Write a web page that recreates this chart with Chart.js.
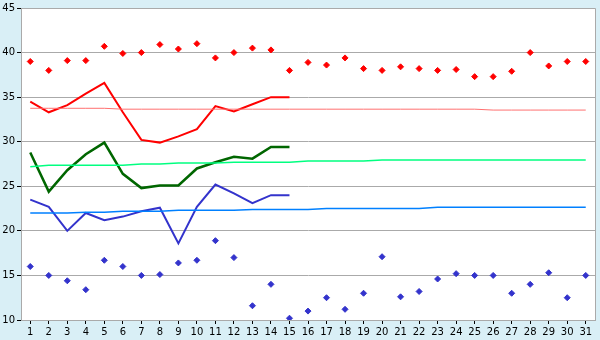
<!DOCTYPE html>
<html>
<head>
<meta charset="utf-8">
<script src="https://cdn.jsdelivr.net/npm/chart.js@4/dist/chart.umd.min.js"></script>
<style>
  html, body { margin: 0; padding: 0; background: #d9eff6; overflow: hidden; }
  #wrap { width: 600px; height: 340px; }
</style>
</head>
<body>
<div id="wrap"><canvas id="grafico" width="600" height="340"></canvas></div>
<script>
const dias = Array.from({ length: 31 }, (_, i) => String(i + 1));

// pontos diários (máxima / mínima)
const maximas = [39.0, 38.0, 39.1, 39.1, 40.7, 39.9, 40.0, 40.9, 40.4, 41.0, 39.4, 40.0, 40.5, 40.3, 38.0,
  38.9, 38.6, 39.4, 38.2, 38.0, 38.4, 38.2, 38.0, 38.1, 37.3, 37.3, 37.9, 40.0, 38.5, 39.0, 39.0];
const minimas = [16.0, 15.0, 14.4, 13.4, 16.7, 16.0, 15.0, 15.1, 16.4, 16.7, 18.9, 17.0, 11.6, 14.0, 10.2,
  11.0, 12.5, 11.2, 13.0, 17.1, 12.6, 13.2, 14.6, 15.2, 15.0, 15.0, 13.0, 14.0, 15.3, 12.5, 15.0];

// linhas grossas (só até o dia 15)
const linhaVermelha = [34.5, 33.3, 34.1, 35.4, 36.6, 33.3, 30.2, 29.9, 30.6, 31.4, 34.0, 33.4, 34.2, 35.0, 35.0];
const linhaVerde = [28.8, 24.4, 26.8, 28.6, 29.9, 26.4, 24.8, 25.1, 25.1, 27.0, 27.7, 28.3, 28.1, 29.4, 29.4];
const linhaAzul = [23.5, 22.7, 20.0, 22.0, 21.2, 21.6, 22.2, 22.6, 18.6, 22.7, 25.2, 24.2, 23.1, 24.0, 24.0];

// linhas finas (médias)
const mediaVermelha = [33.75, 33.75, 33.75, 33.75, 33.75, 33.65, 33.65, 33.65, 33.65, 33.65, 33.65, 33.65, 33.65, 33.65, 33.65,
  33.65, 33.65, 33.65, 33.65, 33.65, 33.65, 33.65, 33.65, 33.65, 33.65, 33.55, 33.55, 33.55, 33.55, 33.55, 33.55];
const mediaVerde = [27.2, 27.35, 27.35, 27.35, 27.35, 27.35, 27.5, 27.5, 27.6, 27.6, 27.6, 27.7, 27.7, 27.7, 27.7,
  27.85, 27.85, 27.85, 27.85, 27.95, 27.95, 27.95, 27.95, 27.95, 27.95, 27.95, 27.95, 27.95, 27.95, 27.95, 27.95];
const mediaAzul = [22.0, 22.0, 22.0, 22.1, 22.1, 22.2, 22.2, 22.2, 22.3, 22.3, 22.3, 22.3, 22.4, 22.4, 22.4,
  22.4, 22.5, 22.5, 22.5, 22.5, 22.5, 22.5, 22.65, 22.65, 22.65, 22.65, 22.65, 22.65, 22.65, 22.65, 22.65];

const yTicks = [10, 15, 20, 25, 30, 35, 40, 45];

const fundo = {
  id: "fundo",
  beforeDraw(chart) {
    const { ctx, chartArea: a } = chart;
    ctx.save();
    ctx.fillStyle = "#d9eff6";
    ctx.fillRect(0, 0, chart.width, chart.height);
    ctx.fillStyle = "#ffffff";
    ctx.fillRect(a.left, a.top, a.right - a.left, a.bottom - a.top);
    ctx.restore();
  },
  afterDatasetsDraw(chart) {
    const { ctx, chartArea: a } = chart;
    ctx.save();
    ctx.strokeStyle = "#aaaaaa";
    ctx.lineWidth = 1;
    ctx.beginPath();
    ctx.moveTo(a.left, a.top + 0.5);
    ctx.lineTo(a.right + 0.5, a.top + 0.5);
    ctx.lineTo(a.right + 0.5, a.bottom);
    ctx.stroke();
    ctx.restore();
  }
};

const linha = (data, cor, largura) => ({
  data, borderColor: cor, borderWidth: largura, pointRadius: 0, fill: false, tension: 0
});
const pontos = (data, cor) => ({
  data, showLine: false, pointStyle: "rectRot", pointRadius: 3,
  pointBackgroundColor: cor, pointBorderColor: cor, pointBorderWidth: 1
});

const fonte = { family: "DejaVu Sans", size: 10 };

new Chart(document.getElementById("grafico"), {
  type: "line",
  data: {
    labels: dias,
    datasets: [
      linha(mediaVermelha, "#ff7070", 1),
      linha(mediaVerde, "#00ff80", 1.5),
      linha(mediaAzul, "#0080ff", 1.5),
      linha(linhaVermelha, "#ff0000", 2),
      linha(linhaVerde, "#006600", 2.5),
      linha(linhaAzul, "#3333cc", 2),
      pontos(maximas, "#ff0000"),
      pontos(minimas, "#3333cc")
    ]
  },
  options: {
    responsive: false,
    animation: false,
    devicePixelRatio: 1,
    layout: { padding: { top: 5, right: 5, left: 0, bottom: 0 } },
    plugins: { legend: { display: false }, tooltip: { enabled: false } },
    scales: {
      x: {
        offset: true,
        grid: { drawOnChartArea: false, drawTicks: true, tickLength: 4, tickColor: "#000000", offset: false },
        border: { color: "#aaaaaa", width: 1 },
        ticks: { color: "#000000", font: fonte, padding: 2, maxRotation: 0, autoSkip: false },
        afterFit(s) { s.height = 20; }
      },
      y: {
        min: 10, max: 45,
        afterBuildTicks(s) { s.ticks = yTicks.map(v => ({ value: v })); },
        grid: { color: "#aaaaaa", tickColor: "#000000", tickLength: 4 },
        border: { color: "#aaaaaa", width: 1 },
        ticks: { color: "#000000", font: fonte, padding: 2 },
        afterFit(s) { s.width = 21; }
      }
    }
  },
  plugins: [fundo]
});
</script>
</body>
</html>
